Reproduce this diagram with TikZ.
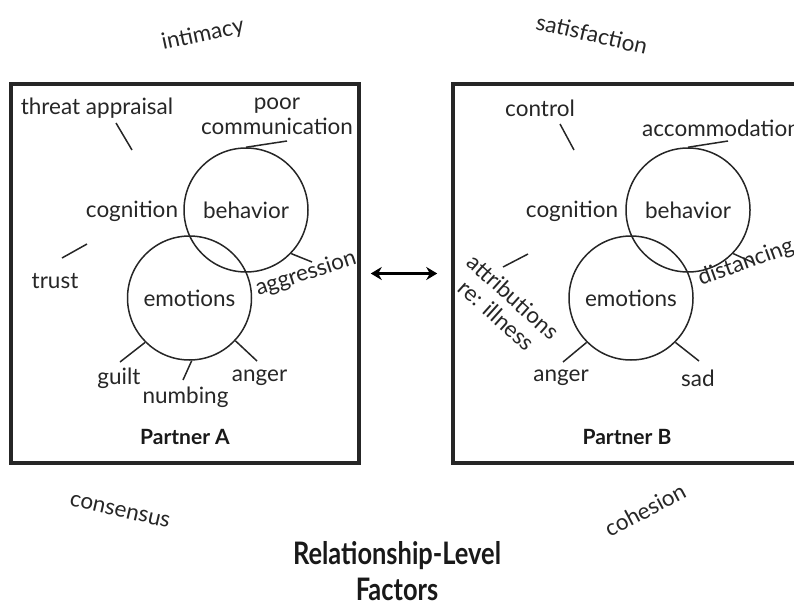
\documentclass[tikz,border=0pt]{standalone}
\usepackage{fontspec}
\setmainfont{Lato}
\newfontfamily\headfont[FakeStretch=0.82]{Lato}
\usetikzlibrary{arrows.meta}
\tikzset{
    frame/.style={draw=black!85, line width=3.5pt, inner sep=0},
    ring/.style={circle, draw=black!85, line width=1.5pt, minimum size=124pt, inner sep=0},
    word/.style={text=black!85, font=\fontsize{22.5}{25}\selectfont, inner sep=1pt},
    tick/.style={draw=black!85, line width=1.5pt},
    partner/.style={text=black!90, font=\fontsize{21}{24}\selectfont\bfseries},
    heading/.style={text=black!90, font=\headfont\fontsize{31}{36}\selectfont\bfseries, align=center}
}

\begin{document}
\begin{tikzpicture}[x=1pt, y=-1pt]
    \useasboundingbox (0,0) rectangle (794,602);
    \clip (0,0) rectangle (794,602);
    \node[frame, minimum width=348pt, minimum height=379pt] (boxA) at (185,273.5) {};
    \node[frame, minimum width=377pt, minimum height=379pt] (boxB) at (641.5,273.5) {};
    \draw[line width=3pt, {Stealth[length=11pt,width=13pt]}-{Stealth[length=11pt,width=13pt]},
        shorten <=10pt, shorten >=14pt] (boxA) -- (boxB);

    \node[word, rotate=12] (intim) at (203,35) {intimacy};
    \node[word, rotate=-13] (satis) at (592,34) {satisfaction};
    \node[word, rotate=-13] (cons) at (120,511) {consensus};
    \node[word, rotate=28] (cohes) at (645,510) {cohesion};
    \node[heading] (rel) at (397,571) {Relationship-Level\\Factors};

    \node[ring, word] (behA) at (246,210) {behavior};
    \node[ring, word] (emoA) at (189.5,298) {emotions};
    \node[word] (threat) at (97,108) {threat appraisal};
    \node[word, align=center] (poor) at (277,116) {poor\\communication};
    \node[word] (cogA) at (132,211) {cognition};
    \node[word] (trust) at (55,281) {trust};
    \node[word, rotate=18] (aggr) at (306,274) {aggression};
    \node[word] (guilt) at (119,378) {guilt};
    \node[word] (numb) at (185.5,397) {numbing};
    \node[word] (angA) at (259.5,378) {anger};
    \node[partner] (partA) at (185,437) {Partner A};

    \coordinate (thrS) at (116,123);
    \coordinate (thrE) at (132,150);
    \coordinate (pcE) at (287,141);
    \coordinate (trS) at (62,258);
    \coordinate (trE) at (87,244);
    \coordinate (agE) at (312,262);
    \coordinate (guE) at (120,362);
    \coordinate (nuE) at (183,380);
    \coordinate (anE) at (257,361);
    \draw[tick] (thrS) -- (thrE);
    \draw[tick] (behA.90) -- (pcE);
    \draw[tick] (trS) -- (trE);
    \draw[tick] (behA.-44) -- (agE);
    \draw[tick] (emoA.225) -- (guE);
    \draw[tick] (emoA.272) -- (nuE);
    \draw[tick] (emoA.-43) -- (anE);

    \node[ring, word] (behB) at (688,210) {behavior};
    \node[ring, word] (emoB) at (631,298) {emotions};
    \node[word] (ctrl) at (540,108) {control};
    \node[word, anchor=west] (accom) at (641,128) {accommodation};
    \node[word] (cogB) at (572,211) {cognition};
    \node[word, rotate=-42, align=center] (attr) at (505,306) {attributions\\re: illness};
    \node[word, rotate=20] (dist) at (746,263) {distancing};
    \node[word] (angB) at (561,378) {anger};
    \node[word] (sad) at (698,378) {sad};
    \node[partner] (partB) at (627,437) {Partner B};

    \coordinate (ctS) at (560,124);
    \coordinate (ctE) at (574,150);
    \coordinate (acE) at (728,141);
    \coordinate (atS) at (503,267);
    \coordinate (atE) at (528,254);
    \coordinate (diE) at (754,263);
    \coordinate (abE) at (563,362);
    \coordinate (saE) at (699,361);
    \draw[tick] (ctS) -- (ctE);
    \draw[tick] (behB.90) -- (acE);
    \draw[tick] (atS) -- (atE);
    \draw[tick] (behB.-44) -- (diE);
    \draw[tick] (emoB.225) -- (abE);
    \draw[tick] (emoB.-45) -- (saE);
\end{tikzpicture}
\end{document}
